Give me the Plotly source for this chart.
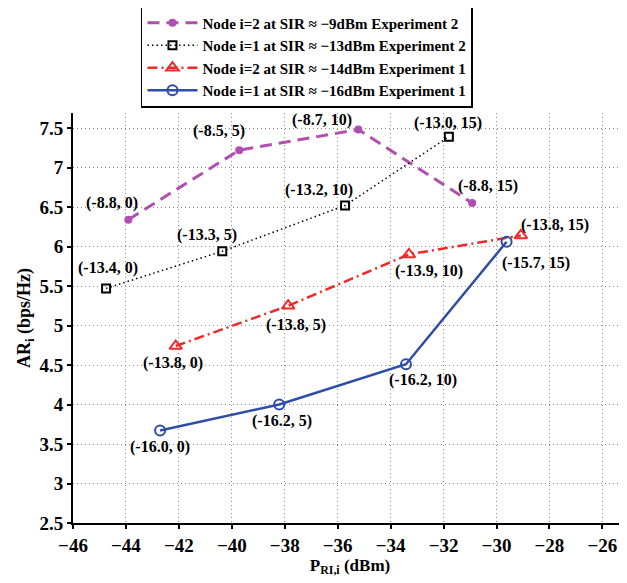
import plotly.graph_objects as go

# ---- data ----
names = [
    "Node i=2 at SIR \u2248 \u22129dBm Experiment 2",
    "Node i=1 at SIR \u2248 \u221213dBm Experiment 2",
    "Node i=2 at SIR \u2248 \u221214dBm Experiment 1",
    "Node i=1 at SIR \u2248 \u221216dBm Experiment 1",
]
x_n2_e2 = [-43.91, -39.72, -35.22, -30.92]
y_n2_e2 = [6.34, 7.22, 7.48, 6.55]
lab_n2_e2 = ["(-8.8, 0)", "(-8.5, 5)", "(-8.7, 10)", "(-8.8, 15)"]

x_n1_e2 = [-44.75, -40.36, -35.72, -31.80]
y_n1_e2 = [5.47, 5.94, 6.52, 7.39]
lab_n1_e2 = ["(-13.4, 0)", "(-13.3, 5)", "(-13.2, 10)", "(-13.0, 15)"]

x_n2_e1 = [-42.12, -37.87, -33.31, -29.08]
y_n2_e1 = [4.74, 5.25, 5.90, 6.14]
lab_n2_e1 = ["(-13.8, 0)", "(-13.8, 5)", "(-13.9, 10)", "(-13.8, 15)"]

x_n1_e1 = [-42.71, -38.21, -33.42, -29.62]
y_n1_e1 = [3.67, 4.00, 4.51, 6.06]
lab_n1_e1 = ["(-16.0, 0)", "(-16.2, 5)", "(-16.2, 10)", "(-15.7, 15)"]

x_ticks = [-46, -44, -42, -40, -38, -36, -34, -32, -30, -28, -26]
y_ticks = [2.5, 3, 3.5, 4, 4.5, 5, 5.5, 6, 6.5, 7, 7.5]

# ---- styles / label offsets (pixels, +y = down) ----
off_n2_e2 = [(-16, -17), (-20, -19), (-36, -10), (16, -17)]
off_n1_e2 = [(2, -20), (-15, -16), (-26, -15), (-1, -14)]
off_n2_e1 = [(-3, 17), (8, 19), (20, 17), (34, -10)]
off_n1_e1 = [(0, 16), (3, 16), (17, 16), (29, 21)]

PURPLE = "#B04FB0"
RED = "#EE2A2A"
BLUE = "#2E4DA8"
FONT = "Liberation Serif"

fig = go.Figure()
series = [
    (x_n2_e2, y_n2_e2, names[0], dict(color=PURPLE, width=3, dash="12px,7px"),
     dict(symbol="circle", size=8, color=PURPLE)),
    (x_n1_e2, y_n1_e2, names[1], dict(color="black", width=1.5, dash="1.5px,3px"),
     dict(symbol="square-open", size=8, color="black", line=dict(width=2))),
    (x_n2_e1, y_n2_e1, names[2], dict(color=RED, width=2.5, dash="10px,4px,2px,4px"),
     dict(symbol="triangle-up-open", size=11, color=RED, line=dict(width=2))),
    (x_n1_e1, y_n1_e1, names[3], dict(color=BLUE, width=2.5),
     dict(symbol="circle-open", size=10, color=BLUE, line=dict(width=2))),
]
for xs, ys, nm, ln, mk in series:
    fig.add_trace(go.Scatter(x=xs, y=ys, name=nm, mode="lines+markers",
                             line=ln, marker=mk))

for xs, ys, labs, offs in [(x_n2_e2, y_n2_e2, lab_n2_e2, off_n2_e2),
                           (x_n1_e2, y_n1_e2, lab_n1_e2, off_n1_e2),
                           (x_n2_e1, y_n2_e1, lab_n2_e1, off_n2_e1),
                           (x_n1_e1, y_n1_e1, lab_n1_e1, off_n1_e1)]:
    for xv, yv, t, (dx, dy) in zip(xs, ys, labs, offs):
        fig.add_annotation(x=xv, y=yv, text=t, showarrow=False,
                           xshift=dx, yshift=-dy,
                           font=dict(family=FONT, size=16, color="black", weight="bold"))

# page body has an 8px margin: figure is 619x575, offset by 8px
fig.update_layout(
    width=619, height=575,
    margin=dict(l=65, r=0, t=105, b=60, autoexpand=False),
    paper_bgcolor="white", plot_bgcolor="white",
    font=dict(family=FONT, size=16, color="black", weight="bold"),
    showlegend=True,
    legend=dict(x=0.1227, y=1.2636, xanchor="left", yanchor="top",
                bgcolor="white", bordercolor="black", borderwidth=1.5,
                font=dict(family=FONT, size=15, color="black", weight="bold"),
                itemwidth=50, tracegroupgap=0),
)
fig.update_xaxes(range=[-46, -25.07], tickvals=x_ticks, automargin=False,
                 showline=True, linecolor="black", linewidth=2,
                 ticks="outside", ticklen=4, tickwidth=2, tickcolor="black",
                 showgrid=True, gridcolor="#8a8a8a", griddash="1px,3px", gridwidth=1,
                 zeroline=False,
                 title=dict(text="P<sub>RI,i</sub> (dBm)", standoff=2,
                            font=dict(family=FONT, size=17, weight="bold")),
                 tickfont=dict(family=FONT, size=19, weight="bold"))
fig.update_yaxes(range=[2.5, 7.69], tickvals=y_ticks, automargin=False,
                 showline=True, linecolor="black", linewidth=2,
                 ticks="outside", ticklen=4, tickwidth=2, tickcolor="black",
                 showgrid=True, gridcolor="#8a8a8a", griddash="1px,3px", gridwidth=1,
                 zeroline=False,
                 title=dict(text="AR<sub>i</sub> (bps/Hz)", standoff=4,
                            font=dict(family=FONT, size=18, weight="bold")),
                 tickfont=dict(family=FONT, size=19, weight="bold"))

fig.write_html("out.html")
